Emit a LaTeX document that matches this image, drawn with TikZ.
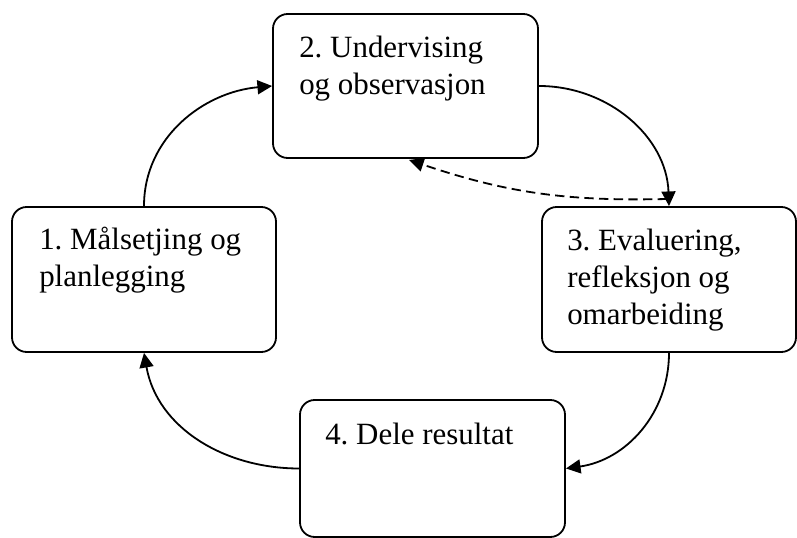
\documentclass[tikz,border=0pt]{standalone}
\usepackage{fontspec}
\setmainfont{Liberation Serif}
\usetikzlibrary{arrows.meta}
\frenchspacing
\begin{document}
\begin{tikzpicture}[x=0.75pt,y=0.75pt,
  box/.style={draw, line width=1.35pt, rounded corners=11pt, inner sep=0pt},
  lbl/.style={anchor=base west, inner sep=0pt, align=left, font=\fontsize{23.2pt}{27.8pt}\selectfont\frenchspacing},
  conn/.style={line width=1.35pt, -{Triangle[length=11pt,width=10.5pt]}},
  dconn/.style={conn, dash pattern=on 7pt off 4pt}]
\useasboundingbox (0,0) rectangle (797,538);
\node[box, minimum width=264*0.75pt, minimum height=145*0.75pt] (b1) at (144,258.5) {};
\node[box, minimum width=265*0.75pt, minimum height=144*0.75pt] (b2) at (405.5,452) {};
\node[box, minimum width=254*0.75pt, minimum height=145*0.75pt] (b3) at (669,258.5) {};
\node[box, minimum width=265*0.75pt, minimum height=137*0.75pt] (b4) at (432.5,69.5) {};
\node[lbl] (t1) at (39,251) {1. Målsetjing og\\planlegging};
\node[lbl] (t2) at (299,443) {2. Undervising\\og observasjon};
\node[lbl] (t3) at (567,213) {3. Evaluering,\\refleksjon og\\omarbeiding};
\node[lbl] (t4) at (325,93) {4. Dele resultat};
\draw[conn] (b1.north) to[out=90,in=185] (b2.west);
\draw[conn] (b2.east) to[out=0,in=92] (b3.north);
\draw[conn] (b3.south) to[out=-90,in=8] (b4.east);
\draw[conn] (b4.west) to[out=180,in=-80] (b1.south);
\coordinate (d1) at (667,339);
\coordinate (d2) at (409,378);
\draw[dconn] (d1) to[bend left=10] (d2);
\end{tikzpicture}
\end{document}
